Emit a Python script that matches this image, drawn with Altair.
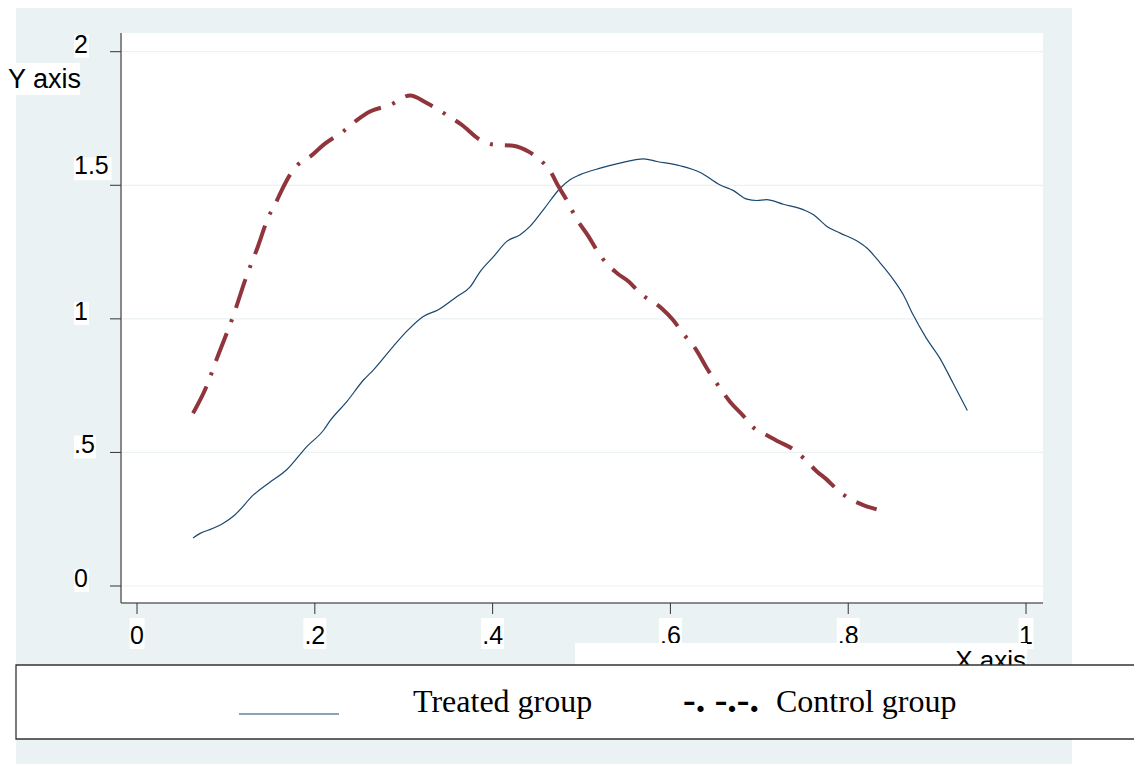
import altair as alt
import pandas as pd

# ---------------- data ----------------
TREATED_X = [0.063, 0.071, 0.085, 0.097, 0.110, 0.131, 0.148, 0.168, 0.191, 0.210,
             0.217, 0.236, 0.255, 0.266, 0.288, 0.303, 0.322, 0.339, 0.360, 0.375,
             0.386, 0.401, 0.416, 0.431, 0.442, 0.457, 0.476, 0.487, 0.498, 0.521,
             0.543, 0.570, 0.585, 0.611, 0.633, 0.656, 0.671, 0.686, 0.697, 0.708,
             0.727, 0.750, 0.761, 0.776, 0.791, 0.809, 0.821, 0.836, 0.851, 0.862,
             0.873, 0.888, 0.903, 0.918, 0.934]
TREATED_Y = [0.180, 0.197, 0.215, 0.235, 0.266, 0.341, 0.385, 0.434, 0.522, 0.584,
             0.618, 0.690, 0.772, 0.809, 0.896, 0.952, 1.009, 1.034, 1.084, 1.121,
             1.177, 1.233, 1.290, 1.315, 1.346, 1.408, 1.489, 1.521, 1.539, 1.564,
             1.583, 1.599, 1.589, 1.573, 1.549, 1.501, 1.480, 1.448, 1.443, 1.446,
             1.429, 1.408, 1.390, 1.346, 1.321, 1.293, 1.265, 1.209, 1.146, 1.090,
             1.015, 0.927, 0.853, 0.759, 0.657]

CONTROL_X = [0.063, 0.078, 0.090, 0.108, 0.123, 0.136, 0.148, 0.155, 0.163, 0.172,
             0.181, 0.195, 0.210, 0.232, 0.247, 0.262, 0.285, 0.307, 0.326, 0.348,
             0.365, 0.386, 0.401, 0.423, 0.442, 0.453, 0.465, 0.474, 0.483, 0.495,
             0.508, 0.517, 0.528, 0.540, 0.553, 0.566, 0.590, 0.603, 0.614, 0.629,
             0.641, 0.652, 0.667, 0.682, 0.693, 0.708, 0.722, 0.738, 0.750, 0.765,
             0.775, 0.787, 0.801, 0.817, 0.832]
CONTROL_Y = [0.647, 0.746, 0.853, 1.009, 1.158, 1.271, 1.383, 1.427, 1.483, 1.539,
             1.577, 1.608, 1.652, 1.702, 1.743, 1.776, 1.801, 1.836, 1.808, 1.764,
             1.727, 1.670, 1.652, 1.648, 1.623, 1.596, 1.552, 1.496, 1.446, 1.371,
             1.308, 1.258, 1.208, 1.171, 1.140, 1.096, 1.040, 0.996, 0.946, 0.884,
             0.815, 0.759, 0.690, 0.637, 0.594, 0.565, 0.540, 0.512, 0.478, 0.428,
             0.401, 0.363, 0.328, 0.303, 0.287]

X_TICKS = [0, 0.2, 0.4, 0.6, 0.8, 1]
X_LABELS = ["0", ".2", ".4", ".6", ".8", "1"]
Y_TICKS = [0, 0.5, 1, 1.5, 2]
Y_LABELS = ["0", ".5", "1", "1.5", "2"]

SERIES = ["Treated group", "Control group"]
X_TITLE = "X axis"
Y_TITLE = "Y axis"

# ---------------- styling ----------------
NAVY = "#1A476F"
MAROON = "#90353B"
BLUISH = "#EAF2F3"
W, H = 921, 570
SANS = "Liberation Sans"
SERIF = "Liberation Serif"
FS = 25

xs = alt.Scale(domain=[-0.0169, 1.0191], nice=False, zero=False)
ys = alt.Scale(domain=[-0.0636, 2.070], nice=False, zero=False)

one = pd.DataFrame({"k": [0]})

treated = pd.DataFrame({"x": TREATED_X, "y": TREATED_Y, "i": range(len(TREATED_X))})
control = pd.DataFrame({"x": CONTROL_X, "y": CONTROL_Y, "i": range(len(CONTROL_X))})
xt = pd.DataFrame({"v": X_TICKS, "lab": X_LABELS})
yt = pd.DataFrame({"v": Y_TICKS, "lab": Y_LABELS})

XF = alt.X("v:Q", scale=xs, axis=None)
YF = alt.Y("v:Q", scale=ys, axis=None)

# background (graph region) and plot region
bg = alt.Chart(one).mark_rect(color=BLUISH).encode(
    x=alt.value(-106), x2=alt.value(950), y=alt.value(-25), y2=alt.value(745))
plotbg = alt.Chart(one).mark_rect(color="white").encode(
    x=alt.value(0), x2=alt.value(W), y=alt.value(0), y2=alt.value(H))

grid = alt.Chart(yt).mark_rule(color=BLUISH, strokeWidth=1.2).encode(y=YF)

line_t = alt.Chart(treated).mark_line(color=NAVY, strokeWidth=1.2, interpolate="monotone").encode(
    x=alt.X("x:Q", scale=xs, axis=None),
    y=alt.Y("y:Q", scale=ys, axis=None),
    order="i:Q")
line_c = alt.Chart(control).mark_line(color=MAROON, strokeWidth=4, interpolate="monotone",
                                      strokeDash=[30, 12, 3, 12], strokeCap="butt").encode(
    x=alt.X("x:Q", scale=xs, axis=None),
    y=alt.Y("y:Q", scale=ys, axis=None),
    order="i:Q")

# axis lines and ticks
xdom = alt.Chart(one).mark_rule(color="#666666", strokeWidth=1.5).encode(
    x=alt.value(-1), x2=alt.value(W), y=alt.value(H))
ydom = alt.Chart(one).mark_rule(color="#666666", strokeWidth=1.5).encode(
    x=alt.value(-1), y=alt.value(0), y2=alt.value(H))
xticks = alt.Chart(xt).mark_rule(color="#333333", strokeWidth=1).encode(
    x=XF, y=alt.value(H), y2=alt.value(H + 11))
yticks = alt.Chart(yt).mark_rule(color="#333333", strokeWidth=1).encode(
    y=YF, x=alt.value(-12), x2=alt.value(-1))

# y tick labels with white boxes
ybox1 = alt.Chart(yt).transform_filter("length(datum.lab) == 1").mark_rect(
    color="white", yOffset=-17, y2Offset=6).encode(
    x=alt.value(-48), x2=alt.value(-33), y=YF, y2="v:Q")
ybox2 = alt.Chart(yt).transform_filter("datum.lab == '.5'").mark_rect(
    color="white", yOffset=-17, y2Offset=6).encode(
    x=alt.value(-48), x2=alt.value(-26), y=YF, y2="v:Q")
ybox3 = alt.Chart(yt).transform_filter("datum.lab == '1.5'").mark_rect(
    color="white", yOffset=-28, y2Offset=-5).encode(
    x=alt.value(-48), x2=alt.value(-10.5), y=YF, y2="v:Q")
ytext_n = alt.Chart(yt).transform_filter("datum.lab != '1.5'").mark_text(
    font=SANS, fontSize=FS, align="left", baseline="alphabetic", dy=1, color="black").encode(
    x=alt.value(-48), y=YF, text="lab:N")
ytext_s = alt.Chart(yt).transform_filter("datum.lab == '1.5'").mark_text(
    font=SANS, fontSize=FS, align="left", baseline="alphabetic", dy=-11, color="black").encode(
    x=alt.value(-48), y=YF, text="lab:N")

# x tick labels with white boxes
xbox1 = alt.Chart(xt).transform_filter("length(datum.lab) == 1").mark_rect(
    color="white", xOffset=-7.5, x2Offset=7.5).encode(
    x=XF, x2="v:Q", y=alt.value(585), y2=alt.value(616))
xbox2 = alt.Chart(xt).transform_filter("length(datum.lab) == 2").mark_rect(
    color="white", xOffset=-11.5, x2Offset=11.5).encode(
    x=XF, x2="v:Q", y=alt.value(585), y2=alt.value(616))
xtext = alt.Chart(xt).mark_text(font=SANS, fontSize=FS, align="center",
                                baseline="alphabetic", color="black").encode(
    x=XF, y=alt.value(611), text="lab:N")

# axis titles
ytitle_box = alt.Chart(one).mark_rect(color="white").encode(
    x=alt.value(-114), x2=alt.value(-42), y=alt.value(30), y2=alt.value(62))
ytitle = alt.Chart(one).mark_text(font=SANS, fontSize=27, align="left",
                                  baseline="alphabetic", color="black").encode(
    x=alt.value(-114), y=alt.value(55), text=alt.value(Y_TITLE))
xtitle_box = alt.Chart(one).mark_rect(color="white").encode(
    x=alt.value(453), x2=alt.value(905), y=alt.value(610), y2=alt.value(632))
xtitle = alt.Chart(one).mark_text(font=SANS, fontSize=26, align="right",
                                  baseline="alphabetic", color="black").encode(
    x=alt.value(904), y=alt.value(636), text=alt.value(X_TITLE))

# legend
leg_box = alt.Chart(one).mark_rect(fill="white", stroke="#333333", strokeWidth=1.3).encode(
    x=alt.value(-106), x2=alt.value(1040), y=alt.value(632), y2=alt.value(706))
leg_line = alt.Chart(one).mark_rule(color=NAVY, strokeWidth=1.2).encode(
    x=alt.value(117), x2=alt.value(217), y=alt.value(681))
leg_t = alt.Chart(one).mark_text(font=SERIF, fontSize=32, align="left",
                                 baseline="alphabetic", color="black").encode(
    x=alt.value(291), y=alt.value(679), text=alt.value(SERIES[0]))
leg_sym = alt.Chart(one).mark_text(font=SERIF, fontSize=38, fontWeight="bold", align="left",
                                   baseline="alphabetic", color="black").encode(
    x=alt.value(561), y=alt.value(679), text=alt.value("-. -.-."))
leg_c = alt.Chart(one).mark_text(font=SERIF, fontSize=32, align="left",
                                 baseline="alphabetic", color="black").encode(
    x=alt.value(654), y=alt.value(679), text=alt.value(SERIES[1]))

chart = alt.layer(
    bg, plotbg, grid, line_t, line_c,
    xdom, ydom, xticks, yticks,
    ybox1, ybox2, ybox3, ytext_n, ytext_s,
    xbox1, xbox2, xtext,
    ytitle_box, ytitle, xtitle_box, xtitle,
    leg_box, leg_line, leg_t, leg_sym, leg_c,
).properties(
    width=W, height=H,
    autosize=alt.AutoSizeParams(type="none"),
    padding={"left": 114, "top": 25, "right": 91, "bottom": 161},
    background="white",
).configure_view(stroke=None)

chart.save("out.html", embed_options={"renderer": "svg", "actions": False})
